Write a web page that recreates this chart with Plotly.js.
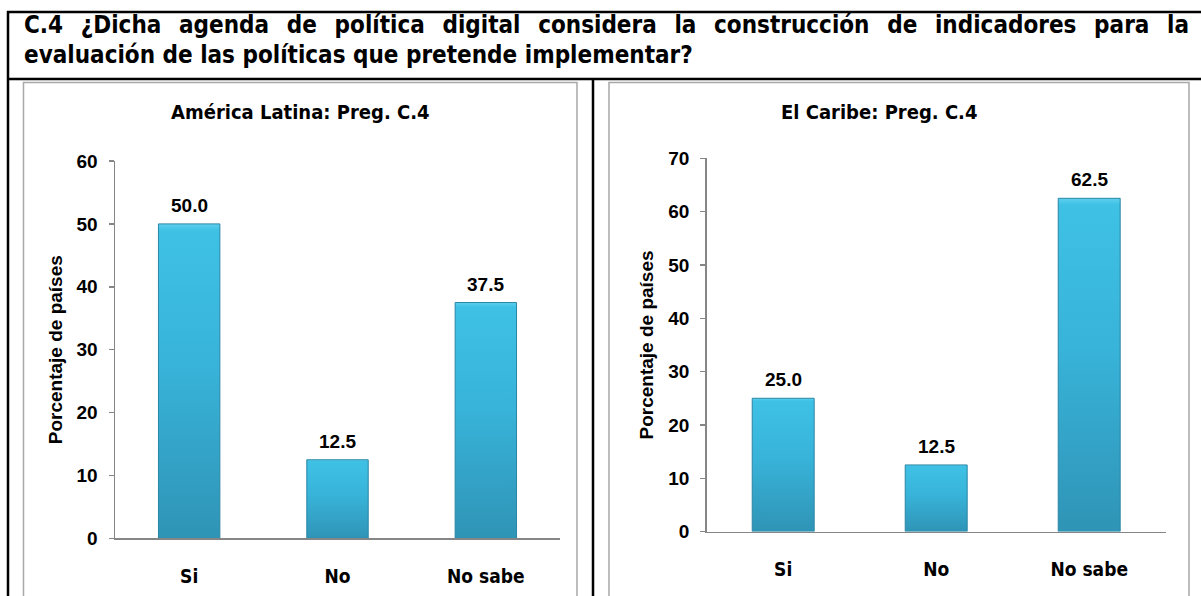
<!DOCTYPE html>
<html><head><meta charset="utf-8">
<script src="https://cdn.plot.ly/plotly-3.0.1.min.js"></script>
<style>html,body{margin:0;padding:0;background:#fff;overflow:hidden;} #chart{width:1201px;height:596px;}</style>
</head><body><div id="chart"></div>
<script>
// ---- data ----
const headerLine1 = "C.4 ¿Dicha agenda de política digital considera la construcción de indicadores para la";
const headerLine2 = "evaluación de las políticas que pretende implementar?";
const categories = ["Si", "No", "No sabe"];
const latamTitle = "América Latina: Preg. C.4";
const latamValues = [50.0, 12.5, 37.5];
const latamTicks = [0, 10, 20, 30, 40, 50, 60];
const caribeTitle = "El Caribe: Preg. C.4";
const caribeValues = [25.0, 12.5, 62.5];
const caribeTicks = [0, 10, 20, 30, 40, 50, 60, 70];
const yAxisTitle = "Porcentaje de países";

// ---- helpers ----
const W = 1201, H = 596;
const px = v => v / W;
const py = v => 1 - v / H;
const NARROW = "Liberation Sans Narrow, Arial Narrow, DejaVu Sans Condensed, sans-serif";
const SANS = "Liberation Sans, Arial, sans-serif";

const barStyle = {color: '#37b0d5', line: {color: '#2a86a4', width: 1}};

const traces = [
  {type: 'bar', x: categories, y: latamValues, xaxis: 'x', yaxis: 'y', width: 0.414,
   marker: barStyle, hoverinfo: 'none', showlegend: false},
  {type: 'bar', x: categories, y: caribeValues, xaxis: 'x2', yaxis: 'y2', width: 0.405,
   marker: barStyle, hoverinfo: 'none', showlegend: false}
];

const xCommon = {
  showgrid: false, zeroline: false, showline: true, linecolor: '#868686', linewidth: 1.5,
  ticks: '', fixedrange: true, ticklabelstandoff: 20,
  tickfont: {family: NARROW, size: 19, weight: 'bold', color: '#000'}
};
const yCommon = {
  showgrid: false, zeroline: false, showline: true, linecolor: '#868686', linewidth: 1.5,
  ticks: 'outside', ticklen: 5, tickwidth: 1.5, tickcolor: '#868686', fixedrange: true,
  ticklabelstandoff: 7,
  tickfont: {family: SANS, size: 19, weight: 'bold', color: '#000'}
};

function valueLabels(vals, xr, yr) {
  return vals.map((v, i) => ({
    xref: xr, yref: yr, x: categories[i], y: v, text: v.toFixed(1),
    yanchor: 'bottom', yshift: 6, showarrow: false,
    font: {family: SANS, size: 19, weight: 'bold', color: '#000'}
  }));
}

const annotations = [
  {xref: 'paper', yref: 'paper', x: px(22), y: py(25), xanchor: 'left', yanchor: 'middle', align: 'left',
   text: headerLine1, showarrow: false, font: {family: NARROW, size: 24, weight: 'bold', color: '#000'}},
  {xref: 'paper', yref: 'paper', x: px(22), y: py(55), xanchor: 'left', yanchor: 'middle', align: 'left',
   text: headerLine2, showarrow: false, font: {family: NARROW, size: 24, weight: 'bold', color: '#000'}},
  {xref: 'paper', yref: 'paper', x: px(300), y: py(112), xanchor: 'center', yanchor: 'middle',
   text: latamTitle, showarrow: false, font: {family: NARROW, size: 20, weight: 'bold', color: '#000'}},
  {xref: 'paper', yref: 'paper', x: px(879), y: py(112), xanchor: 'center', yanchor: 'middle',
   text: caribeTitle, showarrow: false, font: {family: NARROW, size: 20, weight: 'bold', color: '#000'}}
].concat(valueLabels(latamValues, 'x', 'y'), valueLabels(caribeValues, 'x2', 'y2'));

const black = {color: '#000', width: 2.5};
const gray = {color: '#a8a8a8', width: 1.5};
const shapes = [
  {type: 'line', xref: 'paper', yref: 'paper', x0: px(7), x1: px(1210), y0: py(12), y1: py(12), line: black},
  {type: 'line', xref: 'paper', yref: 'paper', x0: px(7), x1: px(1210), y0: py(79), y1: py(79), line: black},
  {type: 'line', xref: 'paper', yref: 'paper', x0: px(8), x1: px(8), y0: py(11), y1: py(610), line: black},
  {type: 'line', xref: 'paper', yref: 'paper', x0: px(593), x1: px(593), y0: py(79), y1: py(610), line: black},
  {type: 'rect', xref: 'paper', yref: 'paper', x0: px(23.5), x1: px(577), y0: py(82.5), y1: py(620), line: gray, fillcolor: 'rgba(0,0,0,0)'},
  {type: 'rect', xref: 'paper', yref: 'paper', x0: px(609), x1: px(1189), y0: py(82.5), y1: py(620), line: gray, fillcolor: 'rgba(0,0,0,0)'}
];

const layout = {
  width: W, height: H, margin: {l: 0, r: 0, t: 0, b: 0},
  paper_bgcolor: '#fff', plot_bgcolor: 'rgba(0,0,0,0)', showlegend: false,
  xaxis: Object.assign({}, xCommon, {domain: [px(115), px(560)], anchor: 'y'}),
  yaxis: Object.assign({}, yCommon, {domain: [py(538.4), py(161)], range: [0, 60], tickvals: latamTicks, anchor: 'x',
    title: {text: yAxisTitle, standoff: 9, font: {family: SANS, size: 19, weight: 'bold', color: '#000'}}}),
  xaxis2: Object.assign({}, xCommon, {domain: [px(706.7), px(1165.7)], anchor: 'y2'}),
  yaxis2: Object.assign({}, yCommon, {domain: [py(531.6), py(158.3)], range: [0, 70], tickvals: caribeTicks, anchor: 'x2',
    title: {text: yAxisTitle, standoff: 9, font: {family: SANS, size: 19, weight: 'bold', color: '#000'}}}),
  annotations: annotations,
  shapes: shapes
};

Plotly.newPlot('chart', traces, layout, {staticPlot: true, displayModeBar: false}).then(gd => {
  // vertical gradient on bars
  const svg = gd.querySelector('svg.main-svg');
  const NS = 'http://www.w3.org/2000/svg';
  let defs = svg.querySelector('defs');
  if (!defs) { defs = document.createElementNS(NS, 'defs'); svg.insertBefore(defs, svg.firstChild); }
  const lg = document.createElementNS(NS, 'linearGradient');
  lg.setAttribute('id', 'barGrad'); lg.setAttribute('x1', '0'); lg.setAttribute('y1', '0');
  lg.setAttribute('x2', '0'); lg.setAttribute('y2', '1');
  [['0%', '#5fd0ee'], ['2%', '#3ec1e5'], ['45%', '#38b3d9'], ['100%', '#2f94b6']].forEach(([o, c]) => {
    const s = document.createElementNS(NS, 'stop'); s.setAttribute('offset', o); s.setAttribute('stop-color', c); lg.appendChild(s);
  });
  defs.appendChild(lg);
  gd.querySelectorAll('.bars .point path').forEach(p => { p.style.fill = 'url(#barGrad)'; });
  // justify first header line
  const ann = gd.querySelectorAll('.annotation')[0];
  const t = ann && ann.querySelector('text');
  if (t) {
    const w = t.getComputedTextLength();
    const spaces = (headerLine1.match(/ /g) || []).length;
    const target = 1165;
    const ws = (target - w) / spaces;
    t.style.wordSpacing = ws + 'px';
  }
});
</script>
</body></html>
